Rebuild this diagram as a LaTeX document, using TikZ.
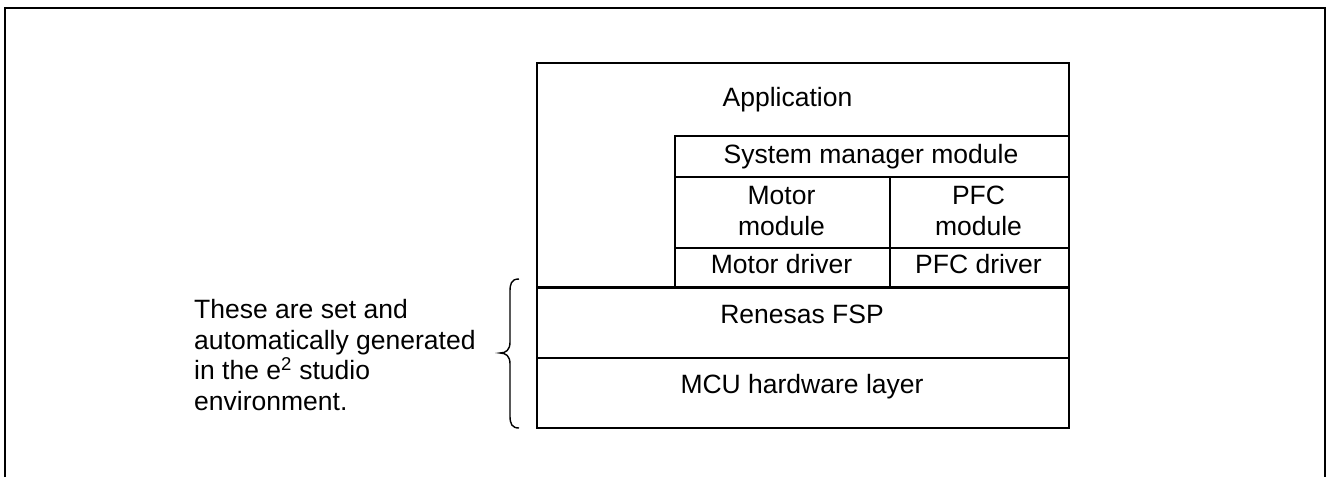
\documentclass[tikz,border=0pt]{standalone}
\usepackage{fontspec}
\setmainfont{Liberation Sans}
\begin{document}
\begin{tikzpicture}[x=1pt,y=-1pt,
  box/.style={draw=black, line width=1.7pt, inner sep=0pt, anchor=north west},
  lbl/.style={font=\fontsize{26.5}{30.5}\selectfont, inner sep=0pt, anchor=base, align=center},
  frameline/.style={line width=2.8pt},
  bracestyle/.style={line width=1.4pt}]
\useasboundingbox (0,0) rectangle (1326,477);
\draw[frameline] (5,477) -- (5,8) -- (1325,8) -- (1325,477);
% boxes
\node[box, minimum width=532pt, minimum height=224pt] (app) at (536,62) {};
\node[box, minimum width=394pt, minimum height=41pt] (sys) at (674,135) {};
\node[box, minimum width=215pt, minimum height=71pt] (motmod) at (674,176) {};
\node[box, minimum width=179pt, minimum height=71pt] (pfcmod) at (889,176) {};
\node[box, minimum width=215pt, minimum height=39pt] (motdrv) at (674,247) {};
\node[box, minimum width=179pt, minimum height=39pt] (pfcdrv) at (889,247) {};
\node[box, minimum width=532pt, minimum height=70pt] (fsp) at (536,287) {};
\node[box, minimum width=532pt, minimum height=70pt] (mcu) at (536,357) {};
% labels
\node[lbl] (tApp) at (787.5,106) {Application};
\node[lbl] (tSys) at (871,163) {System manager module};
\node[lbl] (tMot) at (781.5,235) {Motor\\module};
\node[lbl] (tPfc) at (978.5,235) {PFC\\module};
\node[lbl] (tMd) at (781.5,273) {Motor driver};
\node[lbl] (tPd) at (978.5,273) {PFC driver};
\node[lbl] (tFsp) at (802,323) {Renesas FSP};
\node[lbl] (tMcu) at (802,393) {MCU hardware layer};
\node[lbl, anchor=base west, align=left] (note) at (194,410) {These are set and\\automatically generated\\in the e\textsuperscript{2} studio\\environment.};
% brace
\coordinate (btop) at (519,279);
\coordinate (btip) at (500,353);
\coordinate (bbot) at (519,428);
\draw[bracestyle] (btop) .. controls (511,279) and (510,284) .. (510,292) -- (510,342)
  .. controls (510,350) and (506,353) .. (btip)
  .. controls (506,353) and (510,356) .. (510,364) -- (510,416)
  .. controls (510,424) and (512,428) .. (bbot);
\end{tikzpicture}
\end{document}
